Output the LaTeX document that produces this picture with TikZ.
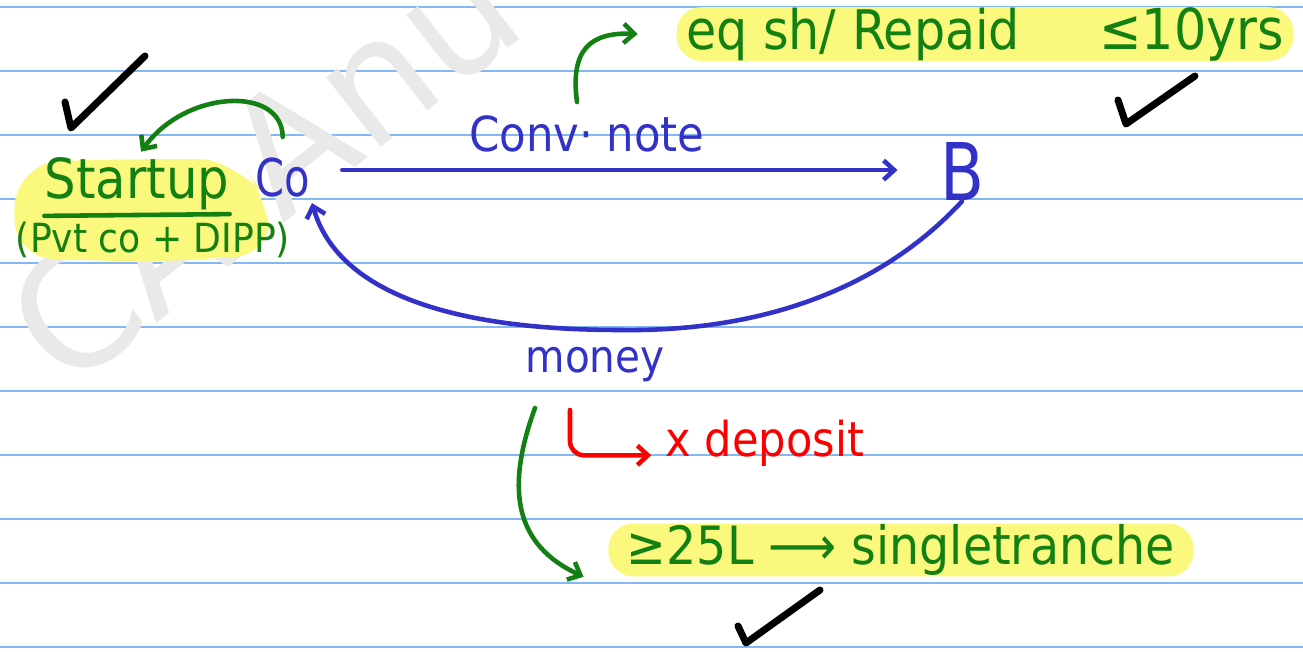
\documentclass[tikz,border=0pt]{standalone}
\usepackage{fontspec}
\setmainfont{DejaVu Sans Condensed}
\newfontfamily\wmfont{DejaVu Sans}
\usetikzlibrary{arrows.meta}
\definecolor{penGreen}{RGB}{18,128,18}
\definecolor{penBlue}{RGB}{50,50,200}
\definecolor{penRed}{RGB}{250,0,0}
\definecolor{ruleBlue}{RGB}{130,185,245}
\definecolor{hlYellow}{RGB}{250,248,125}
\definecolor{wmGray}{RGB}{233,233,233}
\tikzset{
  rule/.style={draw=ruleBlue, line width=1.1pt},
  pen/.style={line width=2.6pt, line cap=round, line join=round},
  gpen/.style={pen, draw=penGreen},
  bpen/.style={pen, draw=penBlue},
  rpen/.style={pen, draw=penRed},
  barb/.style={-{Straight Barb[length=6pt,width=11pt,line width=2.6pt]}},
  checkmark/.style={line width=4pt, line cap=round, line join=round, draw=black},
  gtxt/.style={text=penGreen, inner sep=0pt},
  btxt/.style={text=penBlue, inner sep=0pt},
  rtxt/.style={text=penRed, inner sep=0pt},
  hlbox/.style={fill=hlYellow, rounded corners=14pt, inner sep=0pt, text=penGreen},
  watermark/.style={text=wmGray, font=\wmfont\fontsize{92}{92}\selectfont, inner sep=0pt}
}
\newcommand\fitto[2]{\resizebox{#1}{!}{#2}}
\newcommand\fitwh[3]{\resizebox{#1}{#2}{#3}}
\begin{document}
\begin{tikzpicture}[x=0.02cm, y=-0.02cm]
\useasboundingbox (0,0) rectangle (1303,652);
\clip (0,0) rectangle (1303,652);
\fill[white] (0,0) rectangle (1303,652);
% ruled lines
\foreach \yy in {7,71,...,647} \draw[rule] (0,\yy) -- (1303,\yy);
% watermark
\node[watermark, rotate=38, anchor=base west] (wm) at (66,394) {CA Anu};
% highlights
\fill[hlYellow, rounded corners=22pt] (14,170) .. controls (60,160) and (200,158) .. (245,168) -- (268,200) -- (272,255) -- (150,262) -- (15,258) -- cycle;
\node[hlbox, minimum width=351pt, minimum height=29.5pt] (top) at (985,34)
  {\fitto{190pt}{eq sh/ Repaid}\hspace{45pt}\fitto{105pt}{≤10yrs}};
\node[hlbox, minimum width=333pt, minimum height=30pt] (bot) at (901,550)
  {\fitto{312pt}{≥25L ⟶ singletranche}};
% texts
\node[gtxt] (startup) at (137,184) {\fitto{105pt}{Startup}};
\draw[gpen] ([yshift=-3pt]startup.south west) -- ([yshift=-2pt]startup.south east);
\node[gtxt] (pvt) at (153,240) {\fitto{156pt}{(Pvt co + DIPP)}};
\node[btxt] (co) at (283,178) {\fitwh{31pt}{22pt}{Co}};
\node[btxt] (b) at (962,172) {\fitwh{25pt}{33pt}{B}};
\node[btxt] (conv) at (587,134) {\fitto{134pt}{Conv· note}};
\node[btxt] (money) at (595,365) {\fitto{79pt}{money}};
\node[rtxt] (dep) at (765,443) {\fitto{113pt}{x deposit}};
% checkmarks
\draw[checkmark] (65,102) -- (71,128) -- (145,56);
\draw[checkmark] (1118,100) -- (1126,124) -- (1195,76);
\draw[checkmark] (738,626) -- (746,643) -- (820,590);
% connectors
\draw[bpen, barb] ([xshift=18pt,yshift=4.5pt]co.east) -- ([xshift=-24pt,yshift=4.5pt]co.east -| b.west);
\draw[bpen, barb, shorten >=3pt] (b.south) .. controls (880,290) and (760,332) .. (620,330)
  .. controls (470,330) and (340,300) .. (co.south east);
\draw[gpen, barb, shorten <=12pt, shorten >=4pt] (co.north) .. controls (282,85) and (185,90) .. (startup.north);
\coordinate (cnStart) at (577,102);
\draw[gpen, barb] (cnStart) .. controls (570,50) and (590,32) .. ([xshift=-22pt]top.west);
\coordinate (rStart) at (570,410);
\draw[rpen, barb, rounded corners=8pt, shorten >=8pt] (rStart) |- ([yshift=-7pt]dep.west);
\coordinate (gStart) at (535,408);
\draw[gpen, barb] (gStart) .. controls (505,490) and (515,545) .. ([xshift=-14pt]bot.south west);
\end{tikzpicture}
\end{document}
